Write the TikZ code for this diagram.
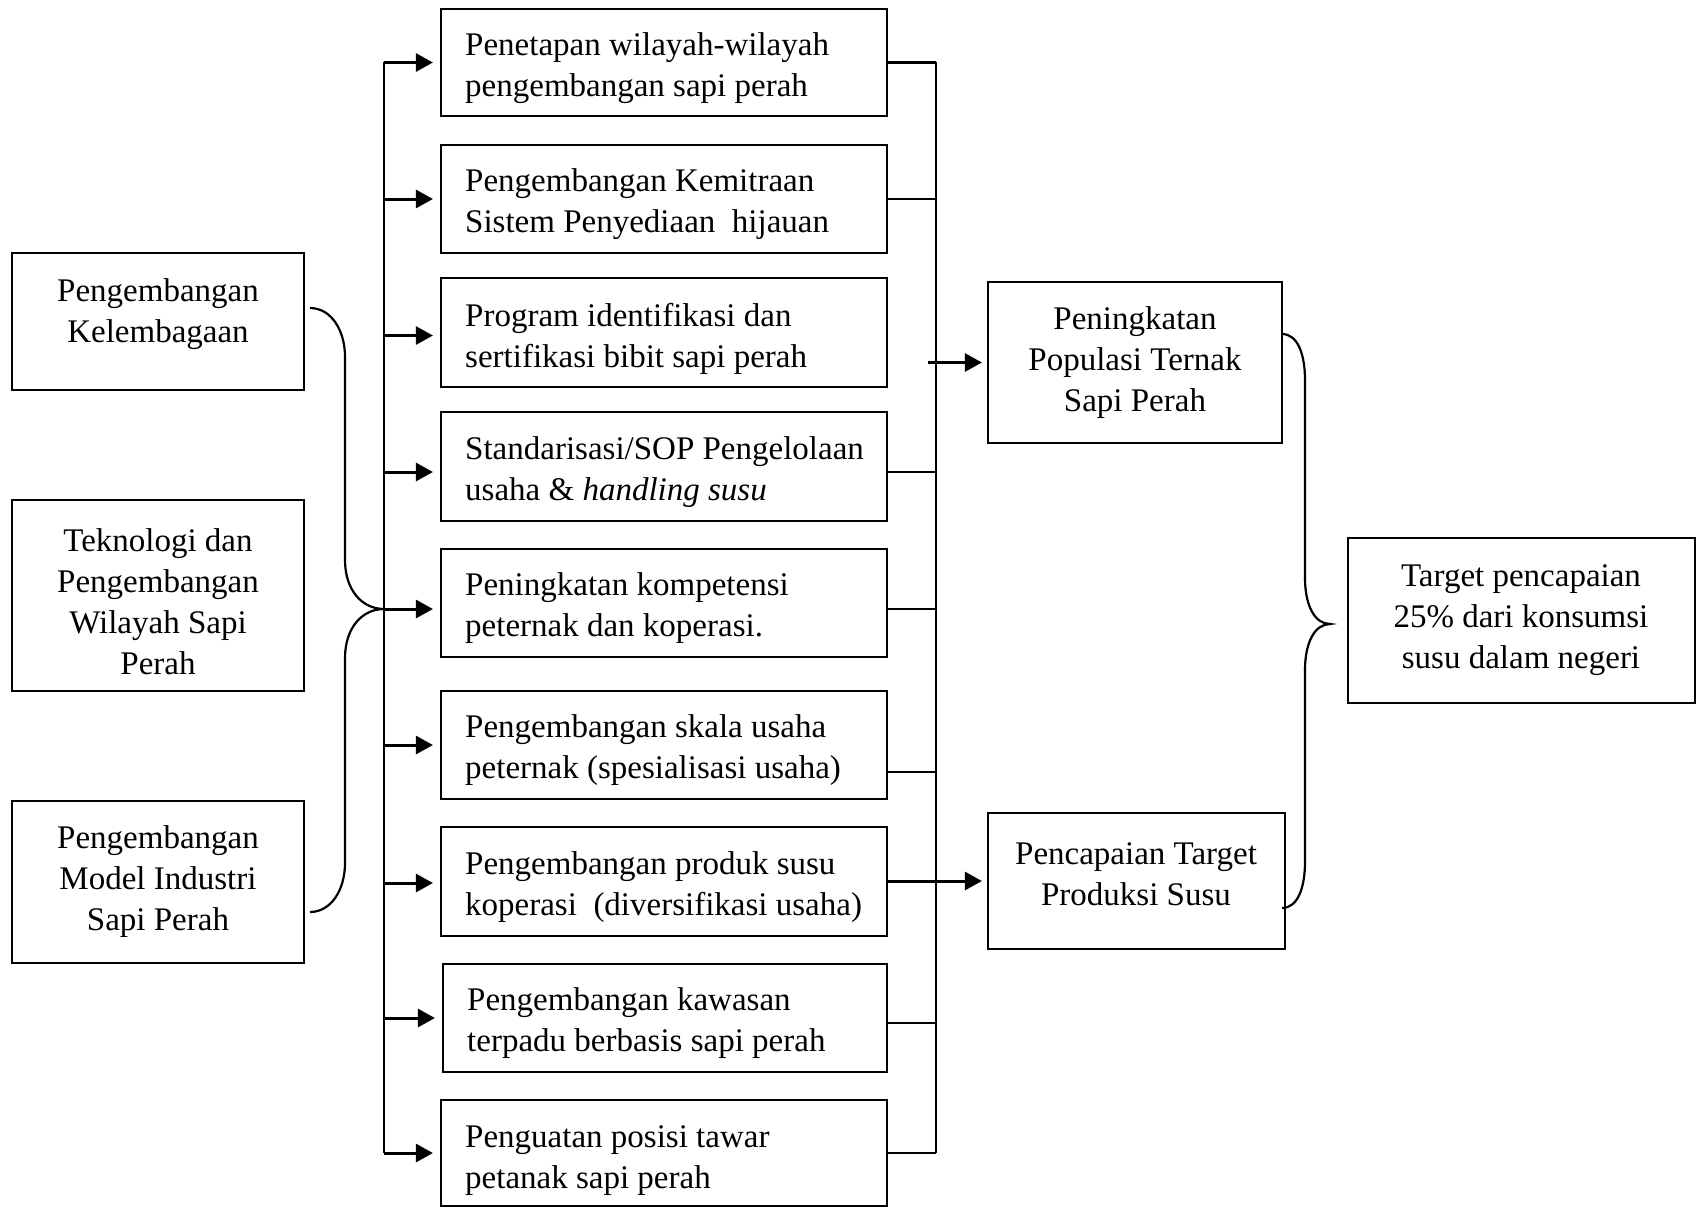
\documentclass[tikz,border=0pt]{standalone}
\usepackage{fontspec}
\setmainfont{Liberation Serif}
\usetikzlibrary{arrows.meta}
\begin{document}
\begin{tikzpicture}[x=1pt,y=-1pt,
  box/.style={draw, line width=2.2pt, inner sep=0pt},
  txt/.style={font=\fontsize{33}{41}\selectfont, inner sep=0pt},
  ctxt/.style={txt, align=center},
  ltxt/.style={txt, align=left, anchor=west},
  ln/.style={line width=2.2pt},
  arr/.style={line width=3pt, -{Triangle[length=17pt,width=18pt]}, shorten >=7pt}]
\fill[white] (0,0) rectangle (1698,1208);
\useasboundingbox (0,0) rectangle (1698,1208);

% left boxes
\node[box, minimum width=292pt, minimum height=137pt] (L1) at (158,321.5) {};
\node[ctxt] (L1t) at (158,314) {Pengembangan\\Kelembagaan};
\node[box, minimum width=292pt, minimum height=191pt] (L2) at (158,595.5) {};
\node[ctxt] (L2t) at (158,601.5) {Teknologi dan\\Pengembangan\\Wilayah Sapi\\Perah};
\node[box, minimum width=292pt, minimum height=162pt] (L3) at (158,882) {};
\node[ctxt] (L3t) at (158,881.5) {Pengembangan\\Model Industri\\Sapi Perah};

% middle boxes
\node[box, minimum width=446pt, minimum height=107pt] (m1) at (664,62.5) {};
\node[ltxt] (m1t) at (465,68.5) {Penetapan wilayah-wilayah\\pengembangan sapi perah};
\node[box, minimum width=446pt, minimum height=108pt] (m2) at (664,199) {};
\node[ltxt] (m2t) at (465,204.5) {Pengembangan Kemitraan\\Sistem Penyediaan\ \ hijauan};
\node[box, minimum width=446pt, minimum height=109pt] (m3) at (664,332.5) {};
\node[ltxt] (m3t) at (465,338.5) {Program identifikasi dan\\sertifikasi bibit sapi perah};
\node[box, minimum width=446pt, minimum height=109pt] (m4) at (664,466.5) {};
\node[ltxt] (m4t) at (465,472.5) {Standarisasi/SOP Pengelolaan\\usaha \& \textit{handling susu}};
\node[box, minimum width=446pt, minimum height=108pt] (m5) at (664,603) {};
\node[ltxt] (m5t) at (465,608.5) {Peningkatan kompetensi\\peternak dan koperasi.};
\node[box, minimum width=446pt, minimum height=108pt] (m6) at (664,745) {};
\node[ltxt] (m6t) at (465,750.5) {Pengembangan skala usaha\\peternak (spesialisasi usaha)};
\node[box, minimum width=446pt, minimum height=109pt] (m7) at (664,881.5) {};
\node[ltxt] (m7t) at (465,887.5) {Pengembangan produk susu\\koperasi\ \ (diversifikasi usaha)};
\node[box, minimum width=444pt, minimum height=108pt] (m8) at (665,1018) {};
\node[ltxt] (m8t) at (467,1023.5) {Pengembangan kawasan\\terpadu berbasis sapi perah};
\node[box, minimum width=446pt, minimum height=106pt] (m9) at (664,1153) {};
\node[ltxt] (m9t) at (465,1160.5) {Penguatan posisi tawar\\petanak sapi perah};

% right boxes
\node[box, minimum width=294pt, minimum height=161pt] (R1) at (1135,362.5) {};
\node[ctxt] (R1t) at (1135,362.5) {Peningkatan\\Populasi Ternak\\Sapi Perah};
\node[box, minimum width=297pt, minimum height=136pt] (R2) at (1136.5,881) {};
\node[ctxt] (R2t) at (1136,874.5) {Pencapaian Target\\Produksi Susu};
\node[box, minimum width=347pt, minimum height=165pt] (T) at (1521.5,620.5) {};
\node[ctxt] (Tt) at (1521,620.5) {Target pencapaian\\25\% dari konsumsi\\susu dalam negeri};

% left bus
\coordinate (lbx) at (384,0);
\coordinate (lbtop) at (384,62);
\coordinate (lbbot) at (384,1153);
\draw[ln] (lbtop) -- (lbbot);
\draw[arr] (lbx |- m1.west) -- (m1.west);
\draw[arr] (lbx |- m2.west) -- (m2.west);
\draw[arr] ([yshift=-3pt]lbx |- m3.west) -- ([yshift=-3pt]m3.west);
\draw[arr] ([yshift=-5.5pt]lbx |- m4.west) -- ([yshift=-5.5pt]m4.west);
\draw[arr] ([yshift=-6pt]lbx |- m5.west) -- ([yshift=-6pt]m5.west);
\draw[arr] (lbx |- m6.west) -- (m6.west);
\draw[arr] ([yshift=-1.5pt]lbx |- m7.west) -- ([yshift=-1.5pt]m7.west);
\draw[arr] (lbx |- m8.west) -- (m8.west);
\draw[arr] (lbx |- m9.west) -- (m9.west);

% left brace
\coordinate (lb1) at (310,308);
\coordinate (lb2) at (384,609);
\coordinate (lb3) at (310,912);
\draw[ln] (lb1) .. controls (331,308) and (345,330) .. (345,357)
  -- (345,560) .. controls (345,590) and (362,609) .. (lb2)
  .. controls (362,609) and (345,628) .. (345,658)
  -- (345,863) .. controls (345,890) and (331,912) .. (lb3);

% right bus
\coordinate (rbx) at (936,0);
\coordinate (rbtop) at (936,62);
\coordinate (rbbot) at (936,1153);
\draw[ln] (rbtop) -- (rbbot);
\draw[ln] (m1.east) -- (rbx |- m1.east);
\draw[ln] (m2.east) -- (rbx |- m2.east);
\draw[ln] ([yshift=-5.5pt]m4.east) -- ([yshift=-5.5pt]rbx |- m4.east);
\draw[ln] ([yshift=-6pt]m5.east) -- ([yshift=-6pt]rbx |- m5.east);
\draw[ln] ([yshift=-27pt]m6.east) -- ([yshift=-27pt]rbx |- m6.east);
\draw[ln] (m7.east) -- (rbx |- m7.east);
\draw[ln] ([yshift=-5pt]m8.east) -- ([yshift=-5pt]rbx |- m8.east);
\draw[ln] (m9.east) -- (rbx |- m9.east);
\draw[arr, shorten >=5pt] ([xshift=-8pt]rbx |- R1.west) -- (R1.west);
\draw[arr, shorten >=5pt] (rbx |- R2.west) -- (R2.west);

% right brace
\coordinate (rb1) at (1282,334);
\coordinate (rb2) at (1330,624);
\coordinate (rb3) at (1282,908);
\draw[ln] (rb1) .. controls (1298,334) and (1305,355) .. (1305,380)
  -- (1305,578) .. controls (1305,606) and (1315,624) .. (rb2)
  .. controls (1315,624) and (1305,642) .. (1305,670)
  -- (1305,862) .. controls (1305,887) and (1298,908) .. (rb3);
\end{tikzpicture}
\end{document}
